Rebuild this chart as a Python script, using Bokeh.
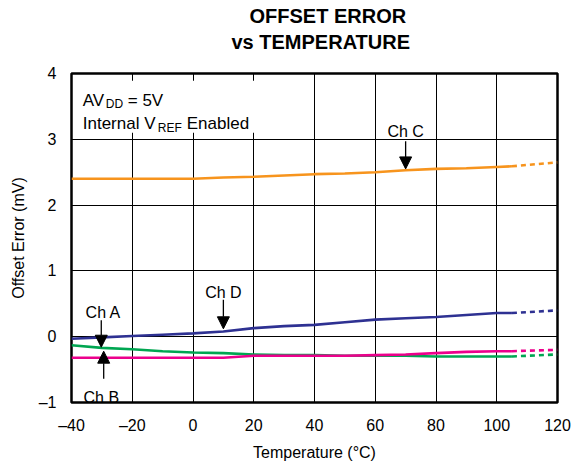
from bokeh.plotting import figure
from bokeh.models import Arrow, NormalHead, Label, BoxAnnotation, Title, FixedTicker
from bokeh.embed import file_html
from bokeh.resources import INLINE

# ---- data ----
temp = [-40, -30, -20, -10, 0, 10, 20, 30, 40, 50, 60, 70, 80, 90, 100, 105]
ch_c = [2.40, 2.40, 2.40, 2.40, 2.40, 2.42, 2.43, 2.45, 2.47, 2.48, 2.50, 2.53, 2.55, 2.56, 2.58, 2.59]
ch_d = [-0.03, -0.01, 0.01, 0.03, 0.05, 0.08, 0.13, 0.16, 0.18, 0.22, 0.26, 0.28, 0.30, 0.33, 0.36, 0.36]
ch_a = [-0.13, -0.17, -0.19, -0.22, -0.24, -0.25, -0.27, -0.28, -0.28, -0.29, -0.29, -0.29, -0.30, -0.30, -0.30, -0.30]
ch_b = [-0.32, -0.32, -0.32, -0.32, -0.32, -0.32, -0.29, -0.29, -0.29, -0.29, -0.28, -0.27, -0.25, -0.23, -0.22, -0.22]

temp_ext = [105, 120]
ch_c_ext = [2.59, 2.65]
ch_d_ext = [0.36, 0.40]
ch_a_ext = [-0.30, -0.27]
ch_b_ext = [-0.22, -0.20]

x_ticks = [-40, -20, 0, 20, 40, 60, 80, 100, 120]
x_tick_labels = ["\u201340", "\u201320", "0", "20", "40", "60", "80", "100", "120"]
y_ticks = [-1, 0, 1, 2, 3, 4]
y_tick_labels = ["\u20131", "0", "1", "2", "3", "4"]

title_line1 = "OFFSET ERROR"
title_line2 = "vs TEMPERATURE"

FONT = "Liberation Sans"
C_ORANGE = "#F7941D"
C_BLUE = "#2E3192"
C_GREEN = "#00A651"
C_MAGENTA = "#EC008C"

p = figure(width=572, height=468, x_range=(-40, 120), y_range=(-1, 4),
           output_backend="svg", toolbar_location=None,
           min_border_left=71, min_border_right=15, min_border_top=73, min_border_bottom=66)
p.background_fill_color = "white"
p.border_fill_color = "white"
p.outline_line_color = "black"
p.outline_line_width = 2.5

# titles: blank spacer next to frame, then line 2, then p.title (outermost) = line 1
spacer = Title(text="\u00a0", text_font=FONT, text_font_size="1px", text_color="white", standoff=16)
p.add_layout(spacer, "above")
t2 = Title(text=title_line2, align="left", offset=160, text_font=FONT, text_font_size="20px",
           text_font_style="bold", text_color="black", standoff=3)
p.add_layout(t2, "above")
p.title.text = title_line1
p.title.align = "left"
p.title.offset = 178
p.title.text_font = FONT
p.title.text_font_size = "20px"
p.title.text_font_style = "bold"
p.title.text_color = "black"
p.title.standoff = 2

# axes
for ax in (p.xaxis[0], p.yaxis[0]):
    ax.axis_line_color = None
    ax.major_tick_line_color = None
    ax.minor_tick_line_color = None
    ax.major_tick_out = 0
    ax.major_tick_in = 0
    ax.minor_tick_out = 0
    ax.major_label_text_font = FONT
    ax.major_label_text_font_size = "16px"
    ax.major_label_text_color = "black"
    ax.axis_label_text_font = FONT
    ax.axis_label_text_font_size = "16px"
    ax.axis_label_text_font_style = "normal"
    ax.axis_label_text_color = "black"

p.xaxis.ticker = FixedTicker(ticks=x_ticks)
p.xaxis.major_label_overrides = dict(zip(x_ticks, x_tick_labels))
p.yaxis.ticker = FixedTicker(ticks=y_ticks)
p.yaxis.major_label_overrides = dict(zip(y_ticks, y_tick_labels))
p.xaxis.axis_label = "Temperature (\u00b0C)"
p.yaxis.axis_label = "Offset Error (mV)"
p.xaxis.major_label_standoff = 14
p.yaxis.major_label_standoff = 15
p.xaxis.axis_label_standoff = 7
p.yaxis.axis_label_standoff = 9

# grid
p.xgrid.ticker = FixedTicker(ticks=x_ticks[1:-1])
p.ygrid.ticker = FixedTicker(ticks=y_ticks[1:-1])
for g in (p.xgrid[0], p.ygrid[0]):
    g.grid_line_color = "black"
    g.grid_line_width = 1

# white box behind condition text
p.add_layout(BoxAnnotation(left=-39.4, right=22, top=3.89, bottom=3.10,
                           fill_color="white", fill_alpha=1.0, line_color=None, level="underlay"))

# series
for ys, ys_ext, col in ((ch_c, ch_c_ext, C_ORANGE), (ch_d, ch_d_ext, C_BLUE),
                        (ch_a, ch_a_ext, C_GREEN), (ch_b, ch_b_ext, C_MAGENTA)):
    p.line(temp, ys, line_color=col, line_width=2.6)
    p.line(temp_ext, ys_ext, line_color=col, line_width=2.6, line_dash="5 4")

# channel labels and arrows
def ch_label(text, x, y):
    p.add_layout(Label(x=x, y=y, text=text, text_font=FONT, text_font_size="16px",
                       text_color="black", text_align="center", text_baseline="alphabetic"))

def ch_arrow(x, y0, y1):
    p.add_layout(Arrow(end=NormalHead(size=12, fill_color="black", line_color="black", line_width=1),
                       x_start=x, y_start=y0, x_end=x, y_end=y1,
                       line_color="black", line_width=1.3))

ch_label("Ch C", 70, 3.12)
ch_arrow(70, 2.97, 2.55)
ch_label("Ch D", 10, 0.667)
ch_arrow(10, 0.56, 0.12)
ch_label("Ch A", -29.5, 0.363)
ch_arrow(-30.2, 0.25, -0.16)
ch_label("Ch B", -30.2, -0.93)
ch_arrow(-29.4, -0.64, -0.22)

# condition text with subscripts
def txt(text, x, y, dx=0, dy=0, size="17px"):
    p.add_layout(Label(x=x, y=y, x_offset=dx, y_offset=dy, text=text, text_font=FONT,
                       text_font_size=size, text_color="black", text_align="left",
                       text_baseline="alphabetic"))

X0 = -36.3
txt("AV", X0, 3.59)
txt("DD", X0, 3.59, dx=23, dy=-4, size="12px")
txt("= 5V", X0, 3.59, dx=45)
txt("Internal V", X0, 3.24)
txt("REF", X0, 3.24, dx=75, dy=-4, size="12px")
txt("Enabled", X0, 3.24, dx=104)

open("out.html", "w").write(file_html(p, INLINE))
